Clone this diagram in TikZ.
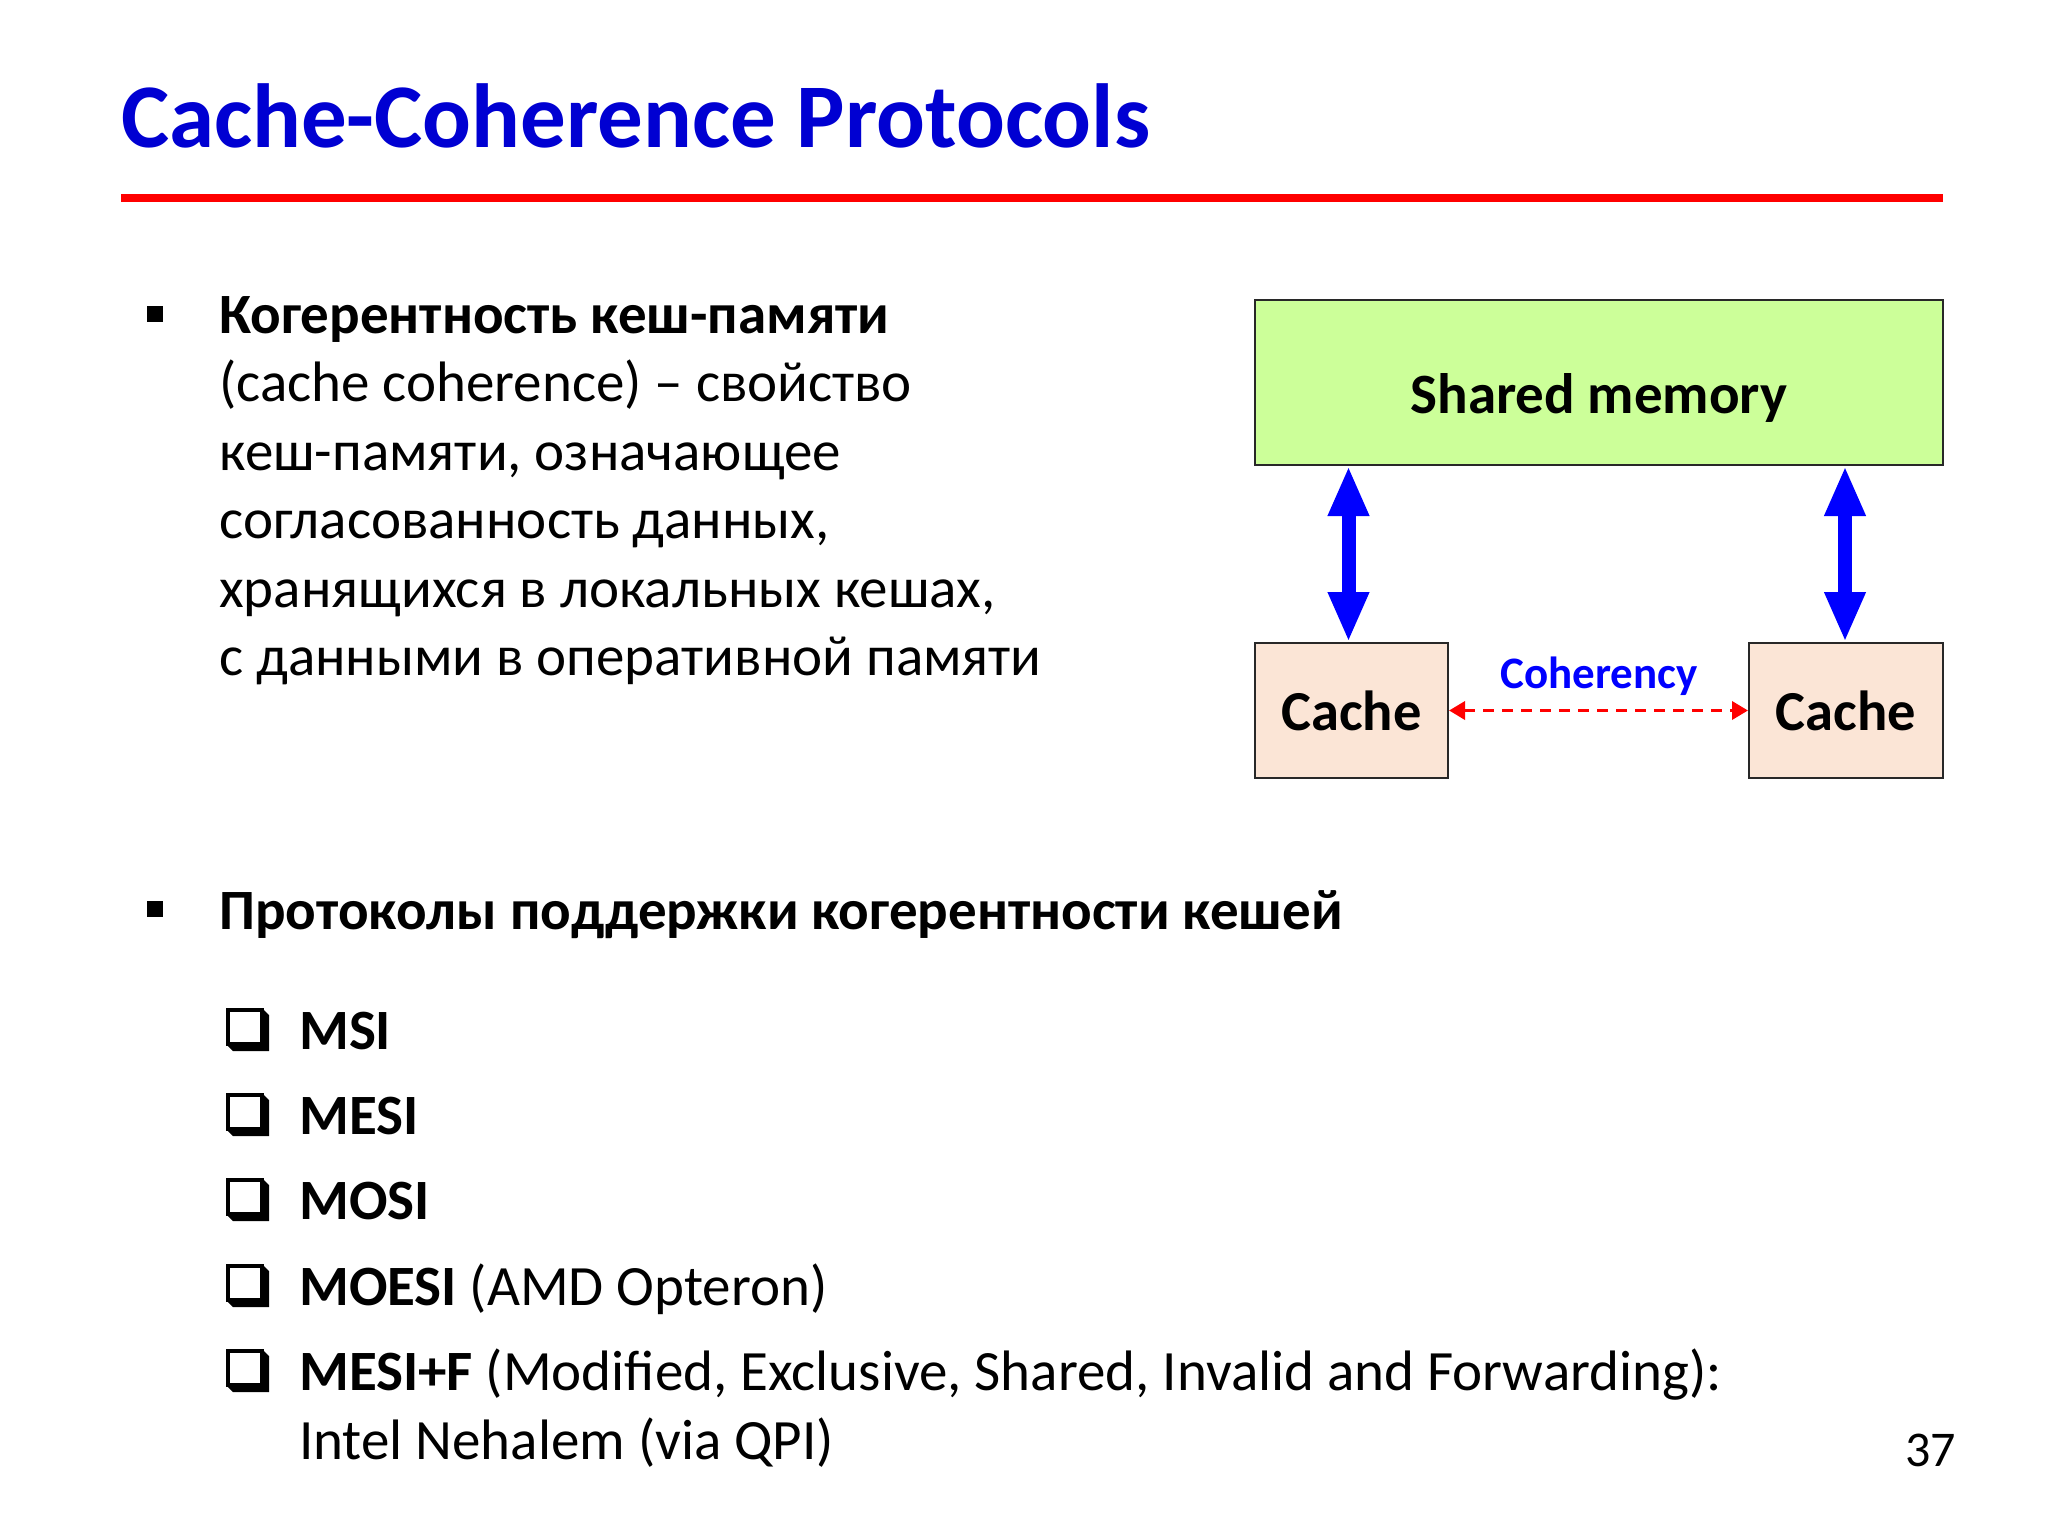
\documentclass[tikz,border=0pt]{standalone}
\usepackage{fontspec}
\setmainfont{Carlito}
\usetikzlibrary{arrows.meta}
\definecolor{titleblue}{RGB}{0,0,210}
\definecolor{memgreen}{RGB}{204,255,153}
\definecolor{cachefill}{RGB}{251,229,214}
\definecolor{boxline}{RGB}{40,40,40}
\tikzset{
  body/.style={inner sep=0pt, anchor=base west, font=\fontsize{57}{68}\selectfont},
  boxstyle/.style={draw=boxline, line width=2pt, inner sep=0pt},
  bigarrow/.style={draw=blue, line width=14pt, {Triangle[width=38pt,length=50pt]}-{Triangle[width=38pt,length=50pt]}, shorten <=0pt, shorten >=0pt},
  coharrow/.style={draw=red, line width=3.5pt, dash pattern=on 11pt off 8pt, {Triangle[width=18pt,length=16pt]}-{Triangle[width=18pt,length=16pt]}},
  sqbullet/.style={fill=black, minimum size=16pt, inner sep=0pt},
  chk/.pic={
    \fill[black] (0,36) -- (7,43) -- (43,43) -- (43,7) -- (36,0) -- (36,36) -- cycle;
    \draw[black, line width=4.5pt, fill=white] (2,2) rectangle (36,36);
  }
}
\begin{document}
\begin{tikzpicture}[x=1pt,y=-1pt]
\path[use as bounding box, fill=white] (0,0) rectangle (2048,1536);

% title
\node[inner sep=0pt, anchor=base west, font=\fontsize{91}{100}\selectfont\bfseries, text=titleblue] (title) at (121,148) {Cache-Coherence Protocols};
\coordinate (rl) at (121,198);
\coordinate (rr) at (1943,198);
\draw[red, line width=8pt] (rl) -- (rr);

% first bullet
\node[sqbullet] (b1) at (155,314) {};
\node[body] (l1) at (219,333) {\bfseries Когерентность кеш-памяти};
\node[body] (l2) at (219,401.5) {(cache coherence) – свойство};
\node[body] (l3) at (219,470) {кеш-памяти, означающее};
\node[body] (l4) at (219,538.5) {согласованность данных,};
\node[body] (l5) at (219,607) {хранящихся в локальных кешах,};
\node[body] (l6) at (219,675.5) {с данными в оперативной памяти};

% diagram
\node[boxstyle, fill=memgreen, minimum width=688pt, minimum height=165pt] (mem) at (1599,382.5) {};
\node[inner sep=0pt, anchor=base, font=\fontsize{57}{68}\selectfont\bfseries] (memtxt) at (1599,413) {Shared memory};
\node[boxstyle, fill=cachefill, minimum width=193pt, minimum height=135pt, font=\fontsize{56.5}{68}\selectfont\bfseries] (c1) at (1351.5,710.5) {Cache};
\node[boxstyle, fill=cachefill, minimum width=194pt, minimum height=135pt, font=\fontsize{56.5}{68}\selectfont\bfseries] (c2) at (1846,710.5) {Cache};
\draw[bigarrow] ([xshift=-3pt]c1.north |- mem.south) -- ([xshift=-3pt]c1.north);
\draw[bigarrow] ([xshift=-1pt]c2.north |- mem.south) -- ([xshift=-1pt]c2.north);
\draw[coharrow] (c1.east) -- (c2.west);
\node[inner sep=0pt, anchor=base, font=\fontsize{45}{54}\selectfont\bfseries, text=blue] (coh) at (1599,688) {Coherency};

% second bullet
\node[sqbullet] (b2) at (155,909) {};
\node[body] (p) at (219,929) {\bfseries Протоколы поддержки когерентности кешей};

% items
\pic at (226,1008) {chk};
\node[body] (i1) at (299,1049) {\bfseries MSI};
\pic at (226,1093) {chk};
\node[body] (i2) at (299,1134) {\bfseries MESI};
\pic at (226,1178) {chk};
\node[body] (i3) at (299,1219) {\bfseries MOSI};
\pic at (226,1264) {chk};
\node[body] (i4) at (299,1305) {\bfseries MOESI\mdseries{} (AMD Opteron)};
\pic at (226,1349) {chk};
\node[body] (i5) at (299,1390) {\bfseries MESI+F\mdseries{} (Modified, Exclusive, Shared, Invalid and Forwarding):};
\node[body] (i6) at (299,1459) {Intel Nehalem (via QPI)};

% page number
\node[inner sep=0pt, anchor=base east, font=\fontsize{50}{60}\selectfont] (pg) at (1956,1466) {37};
\end{tikzpicture}
\end{document}
